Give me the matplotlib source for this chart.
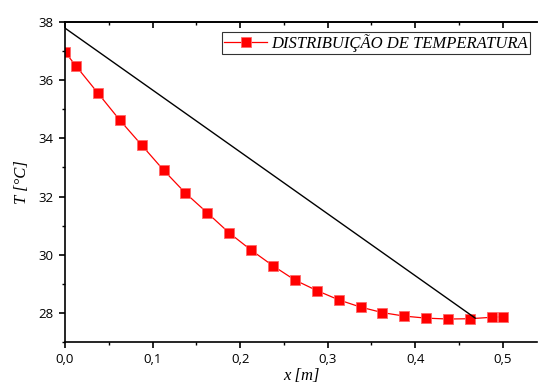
import numpy as np
import matplotlib
matplotlib.use('Agg')
import matplotlib.pyplot as plt
from matplotlib.ticker import MultipleLocator, FuncFormatter

# dados
x = [0.0, 0.0125, 0.0375, 0.0625, 0.0875, 0.1125, 0.1375, 0.1625, 0.1875, 0.2125, 0.2375,
     0.2625, 0.2875, 0.3125, 0.3375, 0.3625, 0.3875, 0.4125, 0.4375, 0.4625, 0.4875, 0.5]
T = [36.97, 36.49, 35.56, 34.63, 33.77, 32.91, 32.12, 31.44, 30.75, 30.16, 29.62,
     29.13, 28.77, 28.45, 28.20, 28.01, 27.89, 27.82, 27.79, 27.80, 27.85, 27.87]
linha_x = [0.0, 0.4685]
linha_T = [37.79, 27.82]

fig = plt.figure(figsize=(5.38, 3.92), dpi=100)
ax = fig.add_axes([65 / 538, 50 / 392, 472 / 538, 320 / 392])

ax.plot(x, T, color='red', lw=0.9, marker='s', ms=6.5, mec='#ff6666', mfc='red', mew=0.6,
        label='DISTRIBUIÇÃO DE TEMPERATURA')
ax.plot(linha_x, linha_T, color='black', lw=1.0)

ax.set_xlim(0, 0.539)
ax.set_ylim(27, 38)
ax.xaxis.set_major_locator(MultipleLocator(0.1))
ax.xaxis.set_minor_locator(MultipleLocator(0.05))
ax.yaxis.set_major_locator(MultipleLocator(2))
ax.yaxis.set_minor_locator(MultipleLocator(1))
ax.xaxis.set_major_formatter(FuncFormatter(lambda v, p: ('%.1f' % v).replace('.', ',')))
ax.yaxis.set_major_formatter(FuncFormatter(lambda v, p: '%d' % v))

for lab in ax.get_xticklabels() + ax.get_yticklabels():
    lab.set_family('Open Sans')
    lab.set_fontsize(9.5)
ax.tick_params(which='major', direction='out', length=4.5, width=1.2)
ax.tick_params(which='minor', direction='out', length=2.5, width=1.0)
for s in ax.spines.values():
    s.set_linewidth(1.2)
ax.spines['right'].set_visible(False)

# marcas do topo, para dentro
topo = ax.secondary_xaxis('top')
topo.xaxis.set_major_locator(MultipleLocator(0.1))
topo.xaxis.set_minor_locator(MultipleLocator(0.05))
topo.tick_params(which='major', direction='in', length=4.5, width=1.2, labeltop=False)
topo.tick_params(which='minor', direction='in', length=2.5, width=1.0)
topo.spines['top'].set_linewidth(1.2)

ax.set_xlabel('x [m]', family='Liberation Serif', style='italic', fontsize=12, labelpad=1)
ax.set_ylabel('T [°C]', family='Liberation Serif', style='italic', fontsize=12, labelpad=6)

leg = ax.legend(loc='upper right', bbox_to_anchor=(0.985, 0.97),
                prop={'family': 'Liberation Serif', 'style': 'italic', 'size': 12},
                frameon=True, fancybox=False, edgecolor='black', handlelength=2.6, borderpad=0.15,
                handletextpad=0.2, borderaxespad=0)
leg.get_frame().set_linewidth(0.8)

fig.savefig('out.png', dpi=100)
